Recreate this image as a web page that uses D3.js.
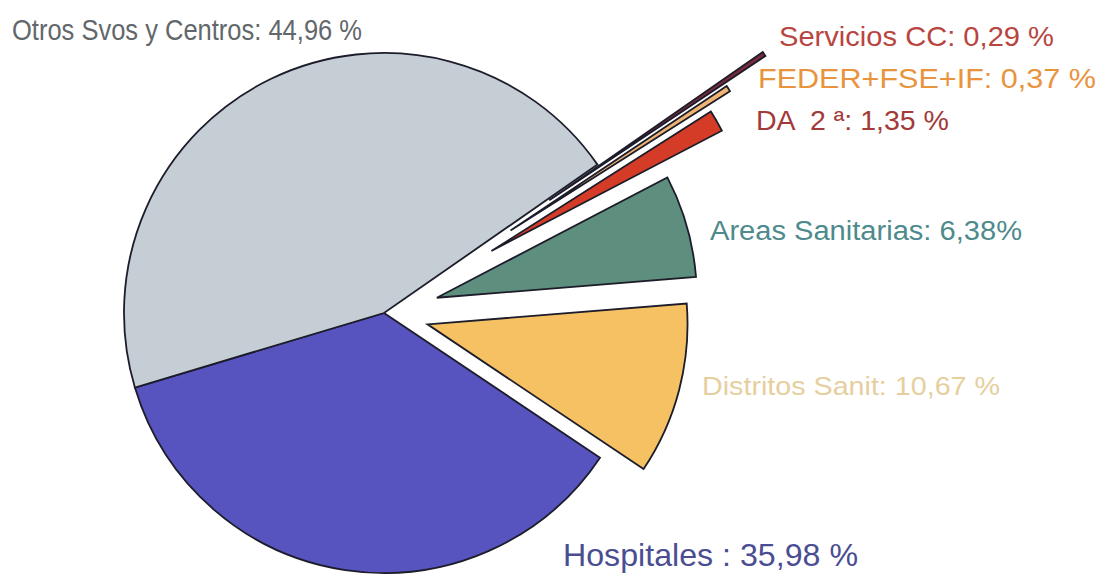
<!DOCTYPE html>
<html>
<head>
<meta charset="utf-8">
<script src="https://cdn.jsdelivr.net/npm/d3@7"></script>
<style>
  body { margin: 0; background: #fff; }
  svg { display: block; }
</style>
</head>
<body>
<div id="root"></div>
<script>
const categories = ["Servicios CC", "FEDER+FSE+IF", "DA 2ª", "Areas Sanitarias", "Distritos Sanit", "Hospitales", "Otros Svos y Centros"];
const shares = [0.29, 0.37, 1.35, 6.38, 10.67, 35.98, 44.96];
const labelTexts = ["Servicios CC: 0,29 %", "FEDER+FSE+IF: 0,37 %", "DA  2 ª: 1,35 %", "Areas Sanitarias: 6,38%", "Distritos Sanit: 10,67 %", "Hospitales : 35,98 %", "Otros Svos y Centros: 44,96 %"];

pieChart(window.d3);

function pieChart(d3) {
  const width = 1106;
  const height = 575;
  const cx = 384;
  const cy = 313;
  const radius = 260;

  // slice look and how far each one is pulled out
  const style = {
    "Servicios CC": { fill: "#7a2b3b", offset: 200, text: "#b8453f" },
    "FEDER+FSE+IF": { fill: "#f0b372", offset: 151, text: "#e8943e" },
    "DA 2ª": { fill: "#d43c28", offset: 124, text: "#a33a3a" },
    "Areas Sanitarias": { fill: "#5e8e7e", offset: 55, text: "#4e8a8c" },
    "Distritos Sanit": { fill: "#f5c163", offset: 45, text: "#e6cf9e" },
    "Hospitales": { fill: "#5753bf", offset: 0, text: "#4b4d93" },
    "Otros Svos y Centros": { fill: "#c5cdd5", offset: 0, text: "#62676b" },
  };

  // label placement: x, baseline, size, width
  const labelPos = {
    "Servicios CC": [779, 46, 28, 275],
    "FEDER+FSE+IF": [758, 88, 28, 338],
    "DA 2ª": [756, 130, 28, 193],
    "Areas Sanitarias": [710, 240, 27, 312],
    "Distritos Sanit": [702, 395, 26, 298],
    "Hospitales": [563, 566, 32, 295],
    "Otros Svos y Centros": [12, 40, 29, 350],
  };

  const svg = d3.select("#root").append("svg")
    .attr("width", width)
    .attr("height", height);

  const data = categories.map((c, i) => ({ name: c, value: shares[i], label: labelTexts[i] }));

  const startAngle = 55.2 * Math.PI / 180;
  const pie = d3.pie()
    .value(d => d.value)
    .sort(null)
    .startAngle(startAngle)
    .endAngle(startAngle + 2 * Math.PI);

  const arc = d3.arc()
    .innerRadius(0)
    .outerRadius(radius);

  const arcs = pie(data);

  const g = svg.append("g")
    .attr("transform", `translate(${cx}, ${cy})`);

  g.selectAll("path")
    .data(arcs)
    .join("path")
    .attr("d", arc)
    .attr("transform", d => {
      const off = style[d.data.name].offset;
      const a = (d.startAngle + d.endAngle) / 2 - Math.PI / 2;
      return `translate(${off * Math.cos(a)}, ${off * Math.sin(a)})`;
    })
    .attr("fill", d => style[d.data.name].fill)
    .attr("stroke", "#1c1c2a")
    .attr("stroke-width", 1.8)
    .attr("stroke-linejoin", "miter");

  svg.selectAll("text.label")
    .data(data)
    .join("text")
    .attr("class", "label")
    .attr("x", d => labelPos[d.name][0])
    .attr("y", d => labelPos[d.name][1])
    .attr("font-size", d => labelPos[d.name][2])
    .attr("textLength", d => labelPos[d.name][3])
    .attr("lengthAdjust", "spacingAndGlyphs")
    .attr("font-family", d => d.name === "Otros Svos y Centros"
      ? "'Liberation Sans Narrow', 'Arial Narrow', 'Liberation Sans', sans-serif"
      : "'Liberation Sans', Arial, sans-serif")
    .attr("fill", d => style[d.name].text)
    .style("white-space", "pre")
    .text(d => d.label);
}
</script>
</body>
</html>
